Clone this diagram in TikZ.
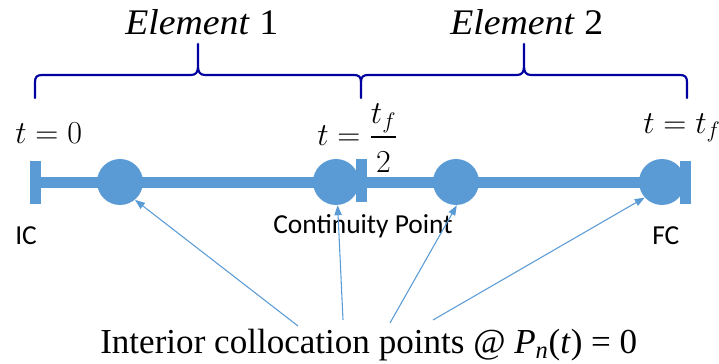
\documentclass[tikz,border=0pt]{standalone}
\usepackage{fix-cm}
\usepackage{amsmath}
\usepackage{graphicx}
\usepackage{fontspec}
\setmainfont{Liberation Serif}
\newfontfamily\calibri{Carlito}
\usetikzlibrary{arrows.meta}
\definecolor{barblue}{HTML}{5B9BD5}
\definecolor{bracenavy}{RGB}{0,0,160}
\def\px{0.75pt}
\tikzset{
  bar/.style={draw=barblue, line width=11*\px},
  capbox/.style={fill=barblue, draw=none, rectangle, minimum width=11*\px, minimum height=43*\px, inner sep=0pt},
  colpt/.style={fill=barblue, draw=none, circle, minimum size=46*\px, inner sep=0pt},
  bracepath/.style={draw=bracenavy, line width=1.6pt, line join=round, line cap=round},
  pointer/.style={draw=barblue, line width=0.8pt, -{Triangle[length=7.5pt,width=5.5pt]}},
  mathlab/.style={anchor=base west, inner sep=0pt, font=\fontsize{24}{29}\selectfont},
  elemlab/.style={anchor=base west, inner sep=0pt, font=\fontsize{27}{32}\selectfont},
  sanslab/.style={anchor=base west, inner sep=0pt, font=\calibri\fontsize{20.6}{25}\selectfont},
  bottomlab/.style={anchor=base west, inner sep=0pt, font=\fontsize{26.3}{31}\selectfont},
}
\begin{document}
\begin{tikzpicture}[x=0.75pt, y=-0.75pt]
\useasboundingbox (0,0) rectangle (719,364);
% caps
\node[capbox] (capL) at (35.5,182.5) {};
\node[capbox] (capM) at (361.5,180.5) {};
\node[capbox] (capR) at (685.5,182.5) {};
% bar
\draw[bar] (capL.center) -- (capR.center);
% collocation points
\node[colpt] (c1) at (120,182) {};
\node[colpt] (c2) at (336,182) {};
\node[colpt] (c3) at (456,182) {};
\node[colpt] (c4) at (662,182) {};
\node[capbox] at (capM.center) {};
\node[capbox] at (capR.center) {};
% braces
\draw[bracepath] (35,98) -- (35,82) .. controls (35,77) and (37,75) .. (42,75) -- (191,75)
  .. controls (196,75) and (198,72) .. (198,66) -- (198,44) -- (198,66)
  .. controls (198,72) and (200,75) .. (205,75) -- (354,75)
  .. controls (359,75) and (361,77) .. (361,82) -- (361,98);
\draw[bracepath] (361,82) .. controls (361,77) and (363,75) .. (368,75) -- (517,75)
  .. controls (522,75) and (524,72) .. (524,66) -- (524,44) -- (524,66)
  .. controls (524,72) and (526,75) .. (531,75) -- (680,75)
  .. controls (685,75) and (687,77) .. (687,82) -- (687,98);
% labels
\node[elemlab] (e1) at (125,35) {\scalebox{1.05}[1]{\textit{Element} 1}};
\node[elemlab] (e2) at (450,35) {\scalebox{1.05}[1]{\textit{Element} 2}};
\node[mathlab] (t0) at (15,143) {$t=0$};
\node[mathlab] (th) at (317,145) {$t=\dfrac{t_f}{\rule{0pt}{0.97em}2}$};
\node[mathlab] (tf) at (643,133) {$t=t_f$};
\node[sanslab] (ic) at (15,244) {IC};
\node[sanslab] (cp) at (273,233) {Continuity Point};
\node[sanslab] (fc) at (652,244) {FC};
\node[bottomlab] (bot) at (100,353) {Interior collocation points @ \textit{P}\textsubscript{\textit{n}}(\textit{t}) = 0};
% pointers
\coordinate (a1) at (298,326);
\coordinate (a2) at (343,320);
\coordinate (a3) at (390,323);
\coordinate (a4) at (433,320);
\draw[pointer] (a1) -- (c1.310);
\draw[pointer] (a2) -- (c2.274);
\draw[pointer] (a3) -- (c3.272);
\draw[pointer] (a4) -- (c4.222);
\end{tikzpicture}
\end{document}
